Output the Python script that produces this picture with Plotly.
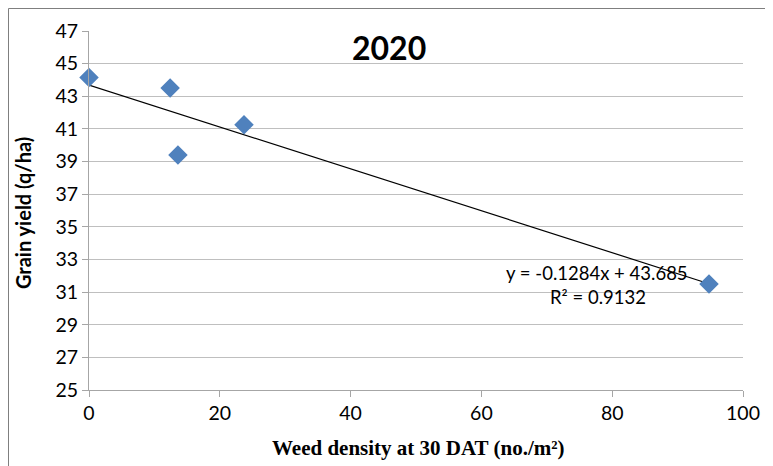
import plotly.graph_objects as go

weed_density = [0.0, 12.4, 13.6, 23.7, 94.8]
grain_yield = [44.15, 43.5, 39.4, 41.25, 31.5]
slope = -0.1284
intercept = 43.685
r2 = 0.9132
title_text = "2020"
x_ticks = [0, 20, 40, 60, 80, 100]
y_ticks = [25, 27, 29, 31, 33, 35, 37, 39, 41, 43, 45, 47]

OFF = 8  # page body margin
W, H = 773 - OFF, 466 - OFF
L, R, T, B = 89 - OFF, 30, 31 - OFF, 76
pw, ph = W - L - R, H - T - B

def px(xp):
    return (xp - OFF - L) / pw

def py(yp):
    return (OFF + H - B - yp) / ph

x_line = [min(weed_density), max(weed_density)]
y_line = [slope * v + intercept for v in x_line]

fig = go.Figure()
fig.add_trace(go.Scatter(x=x_line, y=y_line, mode="lines",
                         line=dict(color="black", width=1.2), hoverinfo="skip"))
fig.add_trace(go.Scatter(x=weed_density, y=grain_yield, mode="markers",
                         cliponaxis=False,
                         marker=dict(symbol="diamond", size=15, color="#4f81bd",
                                     line=dict(width=0))))

fig.update_layout(
    width=W, height=H, showlegend=False,
    margin=dict(l=L, r=R, t=T, b=B, autoexpand=False),
    paper_bgcolor="white", plot_bgcolor="white",
    font=dict(family="Lato, 'Open Sans', sans-serif", color="black", size=19),
    xaxis=dict(range=[0, 100], tickvals=x_ticks, showgrid=False, zeroline=False,
               showline=True, linecolor="#a6a6a6", linewidth=1,
               ticks="outside", ticklen=6, tickcolor="#a6a6a6",
               tickfont=dict(size=19.5), title=None),
    yaxis=dict(range=[25, 47], tickvals=y_ticks, showgrid=True, gridcolor="#bfbfbf",
               gridwidth=1, zeroline=False, showline=True, linecolor="#a6a6a6",
               linewidth=1, ticks="outside", ticklen=6, tickcolor="#a6a6a6",
               tickfont=dict(size=19.5), title=None),
)

fig.add_shape(type="rect", xref="paper", yref="paper",
              x0=px(8.5), x1=px(767), y0=py(472), y1=py(8.5),
              line=dict(color="#7f7f7f", width=1), layer="above")

def note(text, x, y, size, family="Lato, sans-serif", angle=0):
    fig.add_annotation(text=text, xref="paper", yref="paper",
                       x=px(x), y=py(y), xanchor="center", yanchor="middle",
                       showarrow=False, textangle=angle,
                       font=dict(family=family, size=size, color="black"))

note("<b>" + title_text + "</b>", 389, 47, 32)
note("<b>Grain yield (q/ha)</b>", 23, 213, 20, angle=-90)
note("<b>Weed density at 30 DAT (no./m²)</b>", 418, 448, 21,
     family="Liberation Serif, serif")
note(f"y = {slope}x + {intercept}", 597, 273, 18.5)
note(f"R² = {r2}", 598, 297, 18.5)

fig.write_html("out.html")
